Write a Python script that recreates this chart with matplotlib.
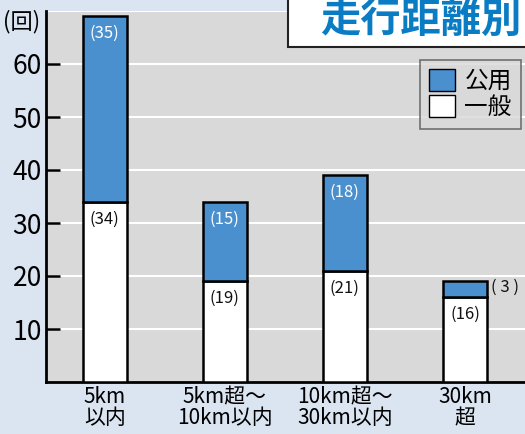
import matplotlib
matplotlib.use('Agg')
import matplotlib.pyplot as plt
import matplotlib.patches as mpatches
import numpy as np

plt.rcParams['font.family'] = ['Noto Sans CJK JP', 'DejaVu Sans']

categories = ['5km\n以内', '5km超～\n10km以内', '10km超～\n30km以内', '30km\n超']
ippan = [34, 19, 21, 16]
koyo = [35, 15, 18, 3]

bg = '#dbe5f2'
blue = '#4a8fce'

fig = plt.figure(figsize=(5.25, 4.34), dpi=100, facecolor=bg)
ax = fig.add_axes([46 / 525, 1 - 382 / 434, 1 - 46 / 525, 371 / 434])
ax.set_facecolor('#d9d9d9')

x = np.arange(len(categories))
w = 0.367
ax.bar(x, ippan, width=w, color='white', edgecolor='black', linewidth=1.8, zorder=3)
ax.bar(x, koyo, width=w, bottom=ippan, color=blue, edgecolor='black', linewidth=1.8, zorder=3)

for i in range(len(x)):
    ax.text(x[i], ippan[i] - 3.3, '(%d)' % ippan[i], ha='center', va='center', fontsize=12, color='#111111', zorder=4)
    if koyo[i] >= 10:
        ax.text(x[i], ippan[i] + koyo[i] - 3.3, '(%d)' % koyo[i], ha='center', va='center', fontsize=12,
                color='white', zorder=4)
    else:
        ax.text(x[i] + w / 2 + 0.03, ippan[i] + koyo[i] / 2 + 0.3, '( %d )' % koyo[i], ha='left', va='center',
                fontsize=12, color='#111111', zorder=4)

ax.set_xlim(-0.49, 3.5)
ax.set_ylim(0, 70)
ax.set_yticks([10, 20, 30, 40, 50, 60])
ax.yaxis.grid(True, color='white', linewidth=1.5, zorder=0)
ax.axhline(70, color='white', linewidth=1.5, zorder=0)
ax.set_xticks(x)
ax.set_xticklabels(categories, fontsize=15, linespacing=0.95)
ax.tick_params(axis='x', length=0, pad=3)
ax.tick_params(axis='y', direction='in', length=10, width=1.8, labelsize=19, pad=3)
for s in ['top', 'right']:
    ax.spines[s].set_visible(False)
for s in ['left', 'bottom']:
    ax.spines[s].set_linewidth(2)

fig.text(3 / 525, 1 - 22 / 434, '(回)', fontsize=16, ha='left', va='center')

# title box
fig.patches.append(mpatches.Rectangle((288 / 525, 1 - 47 / 434), 0.5, 0.2, transform=fig.transFigure,
                                      facecolor='white', edgecolor='#222222', linewidth=1.5, zorder=5))
fig.text(421 / 525, 1 - 20 / 434, '走行距離別', fontsize=29, fontweight='bold', color='#0a7cc4',
         ha='center', va='center', zorder=6)

handles = [mpatches.Patch(facecolor=blue, edgecolor='black', label='公用'),
           mpatches.Patch(facecolor='white', edgecolor='black', label='一般')]
leg = ax.legend(handles=handles, loc='upper right', bbox_to_anchor=(0.992, 0.868), borderaxespad=0,
                fontsize=17, frameon=True, fancybox=False, facecolor='#d9d9d9', edgecolor='#555555',
                handlelength=1.1, handleheight=1.0, handletextpad=0.4, labelspacing=0.1, borderpad=0.4)
leg.get_frame().set_linewidth(1.2)
leg.set_zorder(5)

plt.savefig('out.png', facecolor=bg)
